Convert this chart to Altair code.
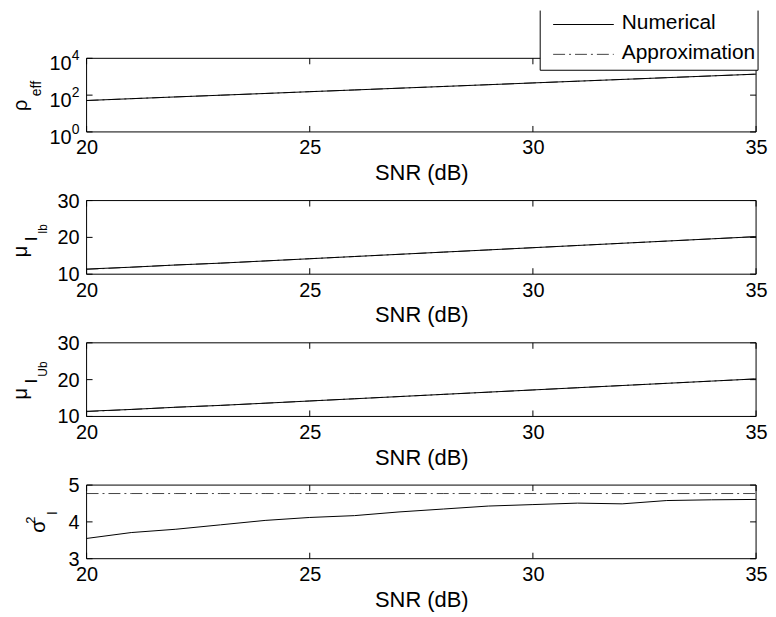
import altair as alt
import pandas as pd

# ---------------- data ----------------
snr = [20, 21, 22, 23, 24, 25, 26, 27, 28, 29, 30, 31, 32, 33, 34, 35]

rho_num = [51, 64, 80, 99, 123, 154, 191, 238, 296, 369, 460, 573, 713, 889, 1107, 1380]
rho_app = [51, 64, 80, 99, 123, 154, 191, 238, 296, 369, 460, 573, 713, 889, 1107, 1380]

mu_lb_num = [11.4, 11.9, 12.5, 13.0, 13.6, 14.2, 14.8, 15.4, 16.0, 16.6, 17.2, 17.8, 18.4, 19.0, 19.6, 20.2]
mu_lb_app = [11.3, 11.9, 12.5, 13.0, 13.6, 14.2, 14.8, 15.4, 16.0, 16.6, 17.2, 17.8, 18.4, 19.0, 19.6, 20.2]

mu_ub_num = [11.4, 11.9, 12.5, 13.0, 13.6, 14.2, 14.8, 15.4, 16.0, 16.6, 17.2, 17.8, 18.4, 19.0, 19.6, 20.2]
mu_ub_app = [11.3, 11.9, 12.5, 13.0, 13.6, 14.2, 14.8, 15.4, 16.0, 16.6, 17.2, 17.8, 18.4, 19.0, 19.6, 20.2]

sigma_num = [3.55, 3.71, 3.80, 3.92, 4.04, 4.12, 4.17, 4.27, 4.35, 4.43, 4.47, 4.51, 4.49, 4.58, 4.60, 4.61]
sigma_app = [4.77] * 16

x_ticks = [20, 25, 30, 35]
series_names = ["Numerical", "Approximation"]

# ---------------- style ----------------
FONT = "Liberation Sans"
W, H = 673, 74
LEFT = 87          # page x of plot left edge
TOPS = [56, 199, 342, 485]
DASH = [12, 4, 2, 4]
APP_COLOR = "#444444"

one = pd.DataFrame({"a": [0]})


def frame():
    rules = []
    for enc in [
        dict(x=alt.value(0), x2=alt.value(W), y=alt.value(0)),
        dict(x=alt.value(0), x2=alt.value(W), y=alt.value(H)),
        dict(x=alt.value(0), y=alt.value(0), y2=alt.value(H)),
        dict(x=alt.value(W), y=alt.value(0), y2=alt.value(H)),
    ]:
        rules.append(alt.Chart(one).mark_rule(color="black", strokeWidth=1).encode(**enc))
    return rules


def title_layers(parts, top):
    layers = []
    for text, size, bx, sy in parts:
        layers.append(
            alt.Chart(one).mark_text(
                text=text, font=FONT, fontSize=size, angle=270,
                align="left", baseline="alphabetic", color="black",
            ).encode(x=alt.value(bx - LEFT), y=alt.value(sy - top))
        )
    return layers


def panel(num, app, ydomain, yticks, top, title_parts, log=False, legend=False):
    df_num = pd.DataFrame({"snr": snr, "val": num})
    df_app = pd.DataFrame({"snr": snr, "val": app})
    yscale = (alt.Scale(type="log", domain=ydomain, nice=False) if log
              else alt.Scale(domain=ydomain, nice=False, zero=False))
    xscale = alt.Scale(domain=[20, 35], nice=False, zero=False)

    yenc = alt.Y("val:Q", scale=yscale, axis=None)
    xenc = alt.X("snr:Q", scale=xscale,
                 axis=alt.Axis(values=x_ticks, title="SNR (dB)", format="d",
                               labelPadding=6, titlePadding=5, labelOverlap=False))

    app_line = alt.Chart(df_app).mark_line(
        color=APP_COLOR, strokeWidth=1, strokeDash=DASH).encode(x=xenc, y=yenc)
    num_line = alt.Chart(df_num).mark_line(
        color="black", strokeWidth=1).encode(x=xenc, y=yenc)

    # inward ticks
    xt = pd.DataFrame({"snr": x_ticks})
    yt = pd.DataFrame({"val": yticks})
    ticks = [
        alt.Chart(xt).mark_rule(color="black", strokeWidth=1).encode(x=xenc, y=alt.value(H), y2=alt.value(H - 6)),
        alt.Chart(xt).mark_rule(color="black", strokeWidth=1).encode(x=xenc, y=alt.value(0), y2=alt.value(6)),
        alt.Chart(yt).mark_rule(color="black", strokeWidth=1).encode(y=yenc, x=alt.value(0), x2=alt.value(6)),
        alt.Chart(yt).mark_rule(color="black", strokeWidth=1).encode(y=yenc, x=alt.value(W), x2=alt.value(W - 6)),
    ]

    layers = [app_line, num_line] + ticks + frame() + title_layers(title_parts, top)

    if log:
        lab = pd.DataFrame({"val": yticks, "base": ["10"] * len(yticks),
                            "exp": ["0", "2", "4"]})
        layers.append(alt.Chart(lab).mark_text(
            font=FONT, fontSize=20, align="right", baseline="middle", dy=6, color="black"
        ).encode(y=yenc, x=alt.value(-15), text="base:N"))
        layers.append(alt.Chart(lab).mark_text(
            font=FONT, fontSize=14, align="left", baseline="alphabetic", dy=2, color="black"
        ).encode(y=yenc, x=alt.value(-15), text="exp:N"))
        # anchor to fix the left extent of the whole figure
        layers.append(alt.Chart(one).mark_rule(strokeOpacity=0, strokeWidth=0.01).encode(
            x=alt.value(8 - LEFT), y=alt.value(0), y2=alt.value(2)))
    else:
        lab = pd.DataFrame({"val": yticks, "txt": [str(v) for v in yticks]})
        layers.append(alt.Chart(lab).mark_text(
            font=FONT, fontSize=20, align="right", baseline="middle", dy=1, color="black"
        ).encode(y=yenc, x=alt.value(-7), text="txt:N"))

    if legend:
        lx0, lx1 = 543 - LEFT, 762 - LEFT
        ly0, ly1 = 8 - top, 68 - top
        layers.append(alt.Chart(one).mark_rect(fill="white").encode(
            x=alt.value(lx0), x2=alt.value(lx1), y=alt.value(ly0), y2=alt.value(ly1)))
        for enc in [
            dict(x=alt.value(lx0), y=alt.value(ly0), y2=alt.value(ly1)),
            dict(x=alt.value(lx1), y=alt.value(ly0), y2=alt.value(ly1)),
            dict(x=alt.value(lx0), x2=alt.value(lx1), y=alt.value(ly1)),
        ]:
            layers.append(alt.Chart(one).mark_rule(color="black", strokeWidth=1).encode(**enc))
        leg = pd.DataFrame({"series": series_names})
        ly_num, ly_app = 22 - top, 52 - top
        layers.append(alt.Chart(one).mark_rule(color="black", strokeWidth=1).encode(
            x=alt.value(556 - LEFT), x2=alt.value(617 - LEFT), y=alt.value(ly_num)))
        layers.append(alt.Chart(one).mark_rule(color=APP_COLOR, strokeWidth=1, strokeDash=DASH).encode(
            x=alt.value(556 - LEFT), x2=alt.value(617 - LEFT), y=alt.value(ly_app)))
        layers.append(alt.Chart(leg).transform_filter(alt.datum.series == series_names[0]).mark_text(
            font=FONT, fontSize=21, align="left", baseline="middle", color="black"
        ).encode(x=alt.value(625 - LEFT), y=alt.value(ly_num - 1), text="series:N"))
        layers.append(alt.Chart(leg).transform_filter(alt.datum.series == series_names[1]).mark_text(
            font=FONT, fontSize=21, align="left", baseline="middle", color="black"
        ).encode(x=alt.value(625 - LEFT), y=alt.value(ly_app - 1), text="series:N"))

    return alt.layer(*layers).properties(width=W, height=H)


p1 = panel(rho_num, rho_app, [1, 10000], [1, 100, 10000], TOPS[0],
           [("ρ", 20, 27, 109), ("eff", 14, 41, 94)], log=True, legend=True)
p2 = panel(mu_lb_num, mu_lb_app, [10, 30], [10, 20, 30], TOPS[1],
           [("μ", 20, 27, 256), ("I", 17, 37, 240), ("lb", 12, 47, 232)])
p3 = panel(mu_ub_num, mu_ub_app, [10, 30], [10, 20, 30], TOPS[2],
           [("μ", 20, 27, 399), ("I", 17, 37, 383), ("Ub", 12, 47, 376)])
p4 = panel(sigma_num, sigma_app, [3, 5], [3, 4, 5], TOPS[3],
           [("σ", 20, 45, 533), ("2", 13, 35, 524), ("I", 14, 57, 515)])

chart = alt.vconcat(p1, p2, p3, p4, spacing=69, bounds="flush").properties(
    padding=0, background="white"
).configure_view(stroke=None).configure_axis(
    labelFont=FONT, labelFontSize=20, labelColor="black",
    titleFont=FONT, titleFontSize=22, titleFontWeight="normal", titleColor="black",
    grid=False, domain=False, ticks=False, labelFlush=False,
)

chart.save("out.html", embed_options={"renderer": "svg", "actions": False})
